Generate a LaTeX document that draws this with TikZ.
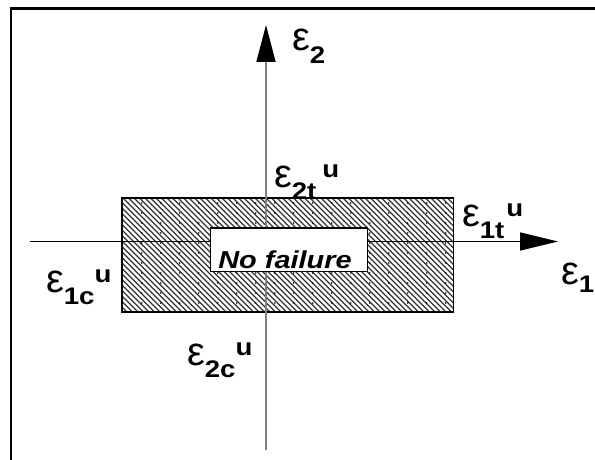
\documentclass[tikz,border=0pt]{standalone}
\usepackage{fontspec}
\setmainfont{Liberation Sans}
\usetikzlibrary{arrows.meta}
\newcommand{\epsg}{{\fontsize{40}{40}\selectfont ε}}
\newcommand{\subf}[1]{\scalebox{1.15}[1]{\fontsize{24}{24}\selectfont\bfseries #1}}
\newcommand{\epslab}[4]{\mbox{\epsg\kern#4\raisebox{-12pt}{\subf{#1}}\kern#3\raisebox{10pt}{\subf{#2}}}}
\tikzset{
  lbl/.style={anchor=base west, inner sep=0pt, outer sep=0pt},
  hatch/.style={line width=1.2pt, black!80},
  border/.style={line width=1.5pt, black},
  haxis/.style={line width=1.5pt, black, -{Triangle[length=38pt,width=18pt]}},
  vaxis/.style={line width=1.8pt, black!50, -{Triangle[length=37pt,width=19pt,color=black]}},
  nfbox/.style={draw=black, line width=1.5pt, fill=white, minimum width=156.8pt, minimum height=43.7pt, inner sep=0pt}
}
\begin{document}
\begin{tikzpicture}[x=1pt,y=-1pt]
\useasboundingbox (0,0) rectangle (595,460);
\clip (0,0) rectangle (595,460);
\fill[white] (0,0) rectangle (595,460);
\draw[line width=2.2pt] (11,475) -- (11,8.6) -- (605,8.6);
% hatched region
\coordinate (r1) at (122,198);
\coordinate (r2) at (453.5,312);
\begin{scope}
\clip (r1) rectangle (r2);
\foreach \i in {-120,-114.5,...,460} \draw[hatch] (122+\i,198) -- ++(114,114);
\foreach \x in {141.7,160.7,...,453} \foreach \y in {203,213,...,312} \fill[black] (\x,\y) circle (0.9);
\end{scope}
\draw[border] (r1) rectangle (r2);
% axes
\coordinate (hL) at (30,241.5);
\coordinate (hR) at (558,241.5);
\coordinate (vB) at (266,450);
\coordinate (vT) at (266,25);
\draw[haxis] (hL) -- (hR);
\draw[vaxis] (vB) -- (vT);
% no failure box
\node[nfbox] (nf) at (289,249.85) {};
\node[anchor=base, inner sep=0pt] (nft) at (285,268) {\scalebox{1.18}[1]{\fontsize{24.5}{24.5}\selectfont\bfseries\itshape No failure}};
% labels
\node[lbl] (e2) at (292,51) {\mbox{\epsg\raisebox{-13pt}{\subf{2}}}};
\node[lbl] (e1) at (561,284) {\mbox{\epsg\raisebox{-8pt}{\subf{1}}}};
\node[lbl] (e2t) at (274,187) {\epslab{2t}{u}{6pt}{0pt}};
\node[lbl] (e1t) at (462,226) {\epslab{1t}{u}{2pt}{0pt}};
\node[lbl] (e1c) at (46,292) {\epslab{1c}{u}{0pt}{0pt}};
\node[lbl] (e2c) at (187,365) {\epslab{2c}{u}{0pt}{0pt}};
\end{tikzpicture}
\end{document}
